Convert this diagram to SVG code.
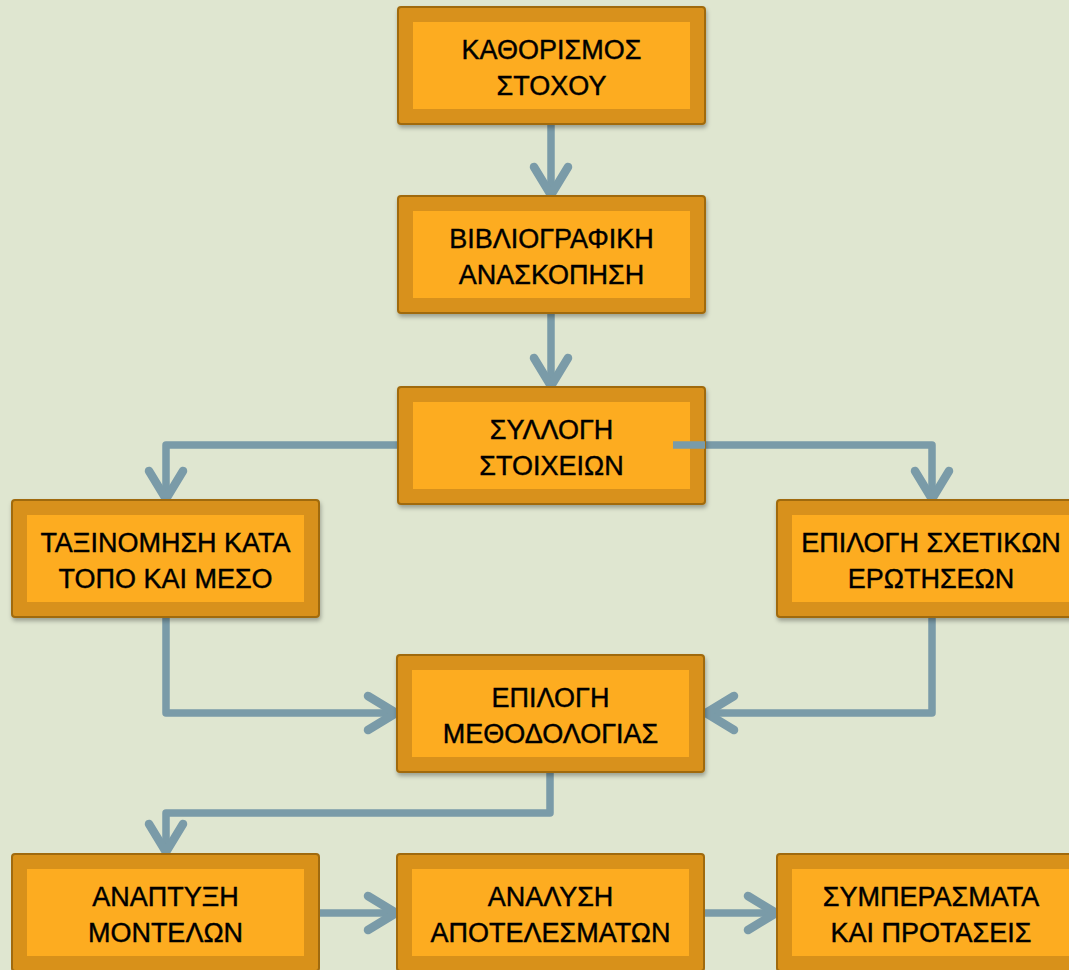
<svg xmlns="http://www.w3.org/2000/svg" width="1069" height="970" viewBox="0 0 1069 970">
<style>
.outer{fill:#d8911a;stroke:#a06a0e;stroke-width:2}
.inner{fill:#fdac20}
.lbl{font-family:"Liberation Sans",Arial,sans-serif;font-size:27px;fill:#000;stroke:#000;stroke-width:0.4;text-anchor:middle}
.con{fill:none;stroke:#7a9ba8;stroke-width:7.5;stroke-linejoin:round}
</style>
<defs>
<filter id="sh" x="-5%" y="-5%" width="110%" height="115%">
<feDropShadow dx="1" dy="3" stdDeviation="2" flood-color="#000" flood-opacity="0.3"/>
</filter>
<marker id="ah" markerUnits="userSpaceOnUse" viewBox="-40 -25 50 50" markerWidth="50" markerHeight="50" refX="0" refY="0" orient="auto">
<path d="M-29,-17 L-1,0 L-29,17" fill="none" stroke="#7a9ba8" stroke-width="8.5" stroke-linecap="round" stroke-linejoin="round"/>
</marker>
</defs>
<rect width="1069" height="970" fill="#dfe6d0"/>
<g id="connectors">
<path class="con" d="M551,124 V196" marker-end="url(#ah)"/>
<path class="con" d="M551,314 V387" marker-end="url(#ah)"/>
<path class="con" d="M400,445 H166 V500" marker-end="url(#ah)"/>
<path class="con" d="M673,445 H932 V500" marker-end="url(#ah)"/>
<path class="con" d="M166,618 V713 H397" marker-end="url(#ah)"/>
<path class="con" d="M932,618 V713 H705" marker-end="url(#ah)"/>
<path class="con" d="M550,772 V813 H166 V853" marker-end="url(#ah)"/>
<path class="con" d="M319,913 H397" marker-end="url(#ah)"/>
<path class="con" d="M703,913 H777" marker-end="url(#ah)"/>
</g>
<g id="n1"><rect class="outer" x="398" y="7" width="307" height="117" rx="3" filter="url(#sh)"/><rect class="inner" x="413" y="22" width="277" height="87"/><text class="lbl" x="551.5" y="59">ΚΑΘΟΡΙΣΜΟΣ</text><text class="lbl" x="551.5" y="95">ΣΤΟΧΟΥ</text></g>
<g id="n2"><rect class="outer" x="398" y="196" width="307" height="117" rx="3" filter="url(#sh)"/><rect class="inner" x="413" y="211" width="277" height="87"/><text class="lbl" x="551.5" y="248">ΒΙΒΛΙΟΓΡΑΦΙΚΗ</text><text class="lbl" x="551.5" y="284">ΑΝΑΣΚΟΠΗΣΗ</text></g>
<g id="n3"><rect class="outer" x="398" y="387" width="307" height="117" rx="3" filter="url(#sh)"/><rect class="inner" x="413" y="402" width="277" height="87"/><text class="lbl" x="551.5" y="439">ΣΥΛΛΟΓΗ</text><text class="lbl" x="551.5" y="475">ΣΤΟΙΧΕΙΩΝ</text></g>
<path class="con" d="M673,445 H705"/>
<g id="n4"><rect class="outer" x="12" y="500" width="307" height="117" rx="3" filter="url(#sh)"/><rect class="inner" x="27" y="515" width="277" height="87"/><text class="lbl" x="165.5" y="552">ΤΑΞΙΝΟΜΗΣΗ ΚΑΤΑ</text><text class="lbl" x="165.5" y="588">ΤΟΠΟ ΚΑΙ ΜΕΣΟ</text></g>
<g id="n5"><rect class="outer" x="777" y="500" width="307" height="117" rx="3" filter="url(#sh)"/><rect class="inner" x="792" y="515" width="277" height="87"/><text class="lbl" x="931" y="552">ΕΠΙΛΟΓΗ ΣΧΕΤΙΚΩΝ</text><text class="lbl" x="931" y="588">ΕΡΩΤΗΣΕΩΝ</text></g>
<g id="n6"><rect class="outer" x="397" y="655" width="307" height="117" rx="3" filter="url(#sh)"/><rect class="inner" x="412" y="670" width="277" height="87"/><text class="lbl" x="550.5" y="707">ΕΠΙΛΟΓΗ</text><text class="lbl" x="550.5" y="743">ΜΕΘΟΔΟΛΟΓΙΑΣ</text></g>
<g id="n7"><rect class="outer" x="12" y="854" width="307" height="117" rx="3"/><rect class="inner" x="27" y="869" width="277" height="87"/><text class="lbl" x="165.5" y="906">ΑΝΑΠΤΥΞΗ</text><text class="lbl" x="165.5" y="942">ΜΟΝΤΕΛΩΝ</text></g>
<g id="n8"><rect class="outer" x="397" y="854" width="307" height="117" rx="3"/><rect class="inner" x="412" y="869" width="277" height="87"/><text class="lbl" x="550.5" y="906">ΑΝΑΛΥΣΗ</text><text class="lbl" x="550.5" y="942">ΑΠΟΤΕΛΕΣΜΑΤΩΝ</text></g>
<g id="n9"><rect class="outer" x="777" y="854" width="307" height="117" rx="3"/><rect class="inner" x="792" y="869" width="277" height="87"/><text class="lbl" x="931" y="906">ΣΥΜΠΕΡΑΣΜΑΤΑ</text><text class="lbl" x="931" y="942">ΚΑΙ ΠΡΟΤΑΣΕΙΣ</text></g>
</svg>
